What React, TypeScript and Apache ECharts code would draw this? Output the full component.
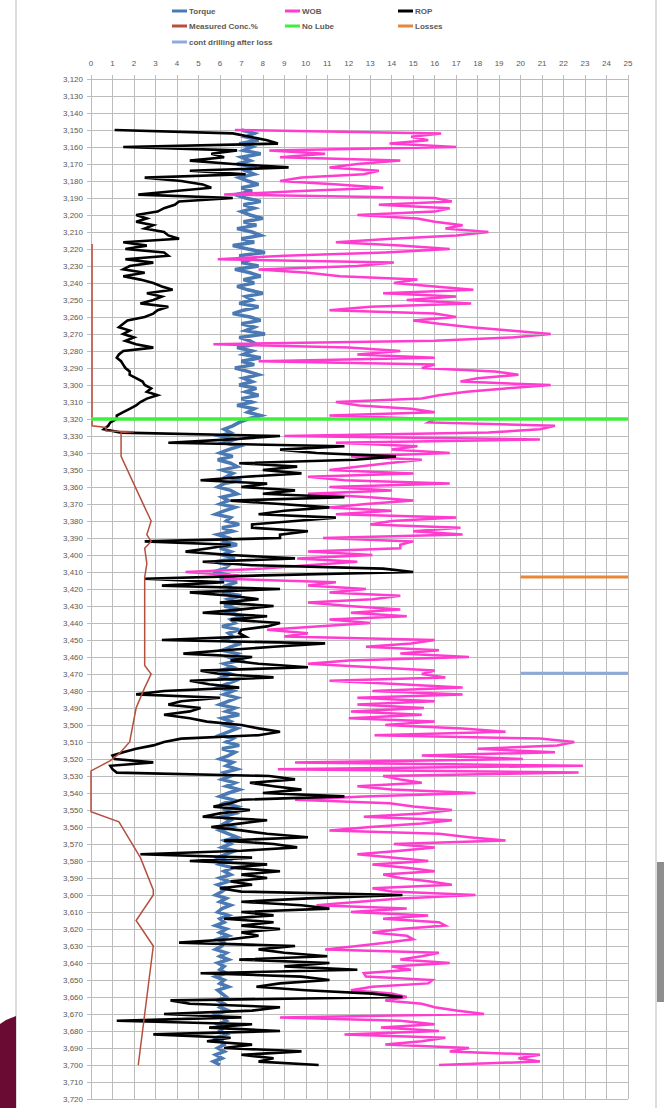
import React, { useEffect, useRef } from "react";
import * as echarts from "echarts";

// Depth sampling of the logs (m): first sample and spacing
const DEPTH_START = 3150;
const DEPTH_STEP = 2;

// Axis ranges
const DEPTH_MIN = 3120;
const DEPTH_MAX = 3720;
const X_MIN = 0;
const X_MAX = 25;

// Torque, one row per 10 m (3150 ... 3700)
const torque = [
  7.0, 7.6, 7.2, 7.8, 6.9,
  7.5, 7.1, 7.9, 7.0, 7.4,
  6.8, 7.7, 7.2, 7.6, 6.9,
  7.3, 7.8, 7.0, 7.5, 6.7,
  7.2, 7.9, 7.1, 7.6, 7.0,
  7.4, 8.0, 7.1, 7.7, 6.8,
  7.5, 7.9, 7.0, 7.6, 6.6,
  7.3, 8.1, 6.9, 7.5, 7.0,
  7.8, 6.7, 7.4, 7.9, 7.1,
  7.6, 6.8, 7.3, 8.0, 7.2,
  7.5, 6.9, 7.8, 7.1, 6.6,
  7.4, 7.9, 7.0, 7.6, 7.2,
  8.1, 6.9, 7.4, 7.7, 6.8,
  7.5, 7.1, 7.9, 7.0, 7.6,
  6.7, 7.3, 7.8, 7.1, 7.5,
  6.9, 7.7, 7.2, 7.8, 7.0,
  7.5, 6.8, 7.6, 7.3, 7.9,
  7.3, 6.9, 6.6, 6.2, 6.5,
  6.0, 6.7, 6.2, 6.9, 6.4,
  6.0, 6.6, 5.9, 6.5, 6.8,
  6.1, 6.6, 6.3, 7.0, 6.2,
  5.9, 6.5, 6.8, 6.1, 6.4,
  6.0, 6.7, 6.2, 5.8, 6.5,
  6.3, 6.9, 6.1, 6.6, 5.9,
  6.4, 6.2, 6.8, 6.0, 6.5,
  6.1, 6.7, 5.8, 6.4, 6.2,
  5.7, 6.5, 6.0, 6.8, 6.3,
  6.6, 6.1, 7.0, 6.4, 6.8,
  6.2, 6.9, 6.4, 7.1, 6.5,
  6.7, 6.1, 6.9, 6.4, 6.6,
  6.2, 7.0, 6.5, 6.1, 6.8,
  6.4, 6.9, 6.2, 6.6, 6.0,
  6.5, 6.1, 6.7, 6.3, 5.9,
  6.6, 6.2, 6.8, 6.4, 6.0,
  6.7, 6.3, 6.9, 6.1, 6.5,
  6.2, 6.8, 6.4, 6.0, 6.6,
  6.3, 6.9, 6.1, 6.7, 6.4,
  6.0, 6.6, 6.3, 6.8, 6.2,
  6.5, 6.1, 6.7, 6.3, 6.9,
  6.4, 6.0, 6.6, 6.2, 6.8,
  6.3, 6.7, 6.1, 6.5, 6.2,
  6.6, 6.0, 6.4, 6.8, 6.2,
  6.5, 6.1, 6.7, 6.3, 5.9,
  6.4, 6.0, 6.6, 6.2, 6.5,
  6.0, 6.4, 5.9, 6.3, 6.1,
  5.8, 6.3, 6.0, 6.5, 6.1,
  5.9, 6.4, 6.0, 6.2, 5.8,
  6.3, 6.0, 6.4, 5.9, 6.2,
  6.1, 5.8, 6.3, 6.0, 6.4,
  5.9, 6.2, 6.0, 6.3, 5.8,
  6.2, 6.0, 6.4, 5.9, 6.1,
  6.3, 5.9, 6.2, 6.0, 6.4,
  5.8, 6.1, 6.3, 5.9, 6.2,
  6.0, 6.3, 5.8, 6.1, 6.2,
  5.9, 6.2, 5.8, 6.1, 5.7,
  6.0,
];

// WOB, one row per 10 m (3150 ... 3700)
const wob = [
  6.7, 16.3, 14.9, 15.7, 13.9,
  17.0, 8.3, 10.9, 8.8, 14.4,
  12.4, 11.1, 13.4, 12.7, 9.8,
  8.8, 11.5, 13.6, 9.5, 6.2,
  16.0, 16.8, 13.4, 16.7, 16.0,
  12.4, 15.2, 16.0, 17.3, 16.5,
  18.5, 17.0, 14.0, 11.4, 14.4,
  16.7, 13.7, 9.0, 5.9, 14.1,
  12.4, 7.8, 10.1, 11.6, 15.2,
  14.1, 16.0, 17.8, 13.6, 17.0,
  14.7, 17.7, 13.0, 11.1, 16.0,
  17.0, 15.0, 16.2, 17.7, 19.5,
  21.4, 19.6, 16.0, 5.7, 12.0,
  14.4, 12.4, 16.0, 7.8, 16.0,
  15.4, 18.8, 19.9, 18.0, 17.2,
  21.4, 19.3, 17.5, 16.2, 15.4,
  11.4, 12.5, 14.9, 16.0, 11.1,
  16.0, 15.7, 21.6, 20.9, 18.5,
  9.0, 20.9, 11.4, 15.2, 14.0,
  16.7, 12.1, 15.4, 13.8, 12.5,
  11.1, 15.0, 10.1, 11.8, 16.7,
  11.1, 14.0, 10.1, 13.0, 15.0,
  12.8, 11.1, 14.0, 11.4, 17.0,
  14.0, 13.0, 17.2, 15.0, 17.3,
  10.8, 15.0, 14.4, 14.4, 10.1,
  13.1, 9.6, 12.4, 10.1, 8.0,
  4.4, 6.9, 6.2, 11.4, 10.1,
  12.8, 11.1, 14.4, 13.1, 10.1,
  12.0, 14.4, 12.1, 14.7, 11.1,
  13.0, 10.5, 8.2, 10.1, 9.0,
  16.0, 14.9, 12.8, 16.2, 14.4,
  17.6, 12.0, 10.1, 13.1, 16.0,
  15.4, 16.5, 11.1, 14.4, 17.3,
  13.1, 17.3, 12.4, 16.0, 12.4,
  15.5, 12.1, 15.4, 12.0, 16.0,
  13.7, 17.3, 19.3, 13.2, 20.9,
  22.5, 21.7, 18.0, 21.6, 15.4,
  20.1, 9.5, 22.9, 8.7, 22.7,
  13.6, 14.4, 15.4, 12.4, 14.0,
  17.9, 12.7, 9.5, 13.9, 15.0,
  16.8, 15.4, 12.7, 16.8, 15.4,
  13.0, 11.1, 16.2, 17.6, 19.3,
  14.1, 16.0, 14.4, 12.4, 14.0,
  15.7, 13.1, 14.7, 16.0, 13.6,
  14.4, 15.8, 16.8, 13.1, 14.0,
  17.9, 14.4, 12.5, 10.5, 14.7,
  12.1, 15.7, 13.6, 16.2, 16.5,
  14.4, 13.1, 14.7, 15.0, 13.8,
  12.4, 10.9, 16.2, 15.4, 14.4,
  16.7, 14.0, 14.9, 12.7, 12.8,
  15.9, 15.7, 13.1, 12.1, 14.0,
  14.7, 13.7, 15.4, 16.0, 17.0,
  18.3, 8.8, 14.4, 16.0, 13.5,
  16.2, 11.8, 16.5, 15.4, 13.7,
  17.6, 16.7, 20.9, 19.9, 20.9,
  16.2,
];

// ROP, one row per 10 m (3150 ... 3700)
const rop = [
  1.1, 6.6, 7.4, 8.2, 8.7,
  1.5, 6.8, 5.6, 6.2, 4.6,
  6.6, 9.2, 4.6, 7.2, 2.5,
  4.2, 5.2, 5.6, 3.8, 2.2,
  6.6, 4.1, 3.9, 3.4, 3.1,
  2.1, 2.6, 2.1, 2.9, 2.5,
  3.4, 3.6, 4.1, 1.5, 2.6,
  1.6, 3.4, 3.6, 1.6, 2.9,
  1.8, 1.5, 2.5, 1.5, 2.3,
  2.9, 3.3, 3.8, 2.6, 3.3,
  2.9, 2.3, 3.6, 3.1, 2.9,
  2.5, 1.7, 1.5, 1.3, 1.8,
  1.5, 2.0, 1.6, 2.1, 2.9,
  1.5, 1.3, 1.2, 1.4, 1.5,
  1.6, 1.8, 1.8, 2.1, 2.4,
  2.5, 2.8, 2.6, 3.1, 2.6,
  2.3, 2.1, 1.8, 1.5, 1.2,
  1.2, 0.9, 0.8, 0.6, 1.4,
  8.8, 6.5, 3.6, 11.8, 8.8,
  10.5, 14.2, 12.3, 6.9, 9.6,
  8.0, 9.8, 7.2, 5.1, 8.2,
  7.0, 9.5, 8.0, 11.8, 6.5,
  8.8, 11.1, 9.0, 7.8, 11.4,
  9.5, 7.5, 7.5, 10.1, 8.8,
  8.8, 2.5, 6.5, 5.5, 4.4,
  6.5, 9.5, 5.2, 7.5, 13.6,
  15.0, 8.0, 2.5, 6.2, 3.3,
  8.8, 4.6, 6.5, 7.8, 6.0,
  8.5, 7.0, 5.2, 8.2, 6.5,
  8.8, 8.2, 7.0, 6.9, 7.2,
  3.3, 10.9, 8.5, 6.2, 4.3,
  7.5, 6.5, 7.8, 10.1, 5.1,
  6.0, 8.5, 4.6, 5.5, 6.9,
  3.4, 2.1, 6.0, 4.2, 3.6,
  5.1, 4.6, 3.4, 4.6, 5.4,
  7.0, 7.8, 8.8, 7.8, 4.2,
  3.4, 2.9, 2.1, 1.5, 1.0,
  1.1, 2.9, 0.9, 1.0, 1.2,
  8.3, 9.5, 7.4, 8.5, 9.8,
  8.0, 11.8, 7.0, 6.5, 5.7,
  7.4, 6.0, 5.2, 8.2, 6.9,
  5.6, 7.0, 8.2, 10.1, 6.2,
  8.5, 9.6, 7.0, 2.3, 7.5,
  4.6, 8.2, 6.5, 8.8, 7.0,
  8.2, 6.5, 7.5, 6.0, 7.0,
  14.5, 10.1, 7.0, 9.8, 11.1,
  7.0, 8.5, 6.2, 8.5, 7.0,
  8.8, 7.0, 7.8, 6.5, 4.1,
  9.5, 7.8, 9.0, 11.0, 6.9,
  11.1, 9.0, 12.4, 5.1, 9.8,
  11.1, 8.8, 7.7, 10.0, 13.1,
  14.5, 3.7, 4.6, 8.8, 7.5,
  3.4, 7.0, 1.2, 7.5, 5.5,
  8.8, 2.9, 6.5, 5.4, 7.5,
  6.2, 9.8, 7.0, 8.5, 7.8,
  10.6,
];

// Measured lubricant concentration (%) at its own depths
const concDepth = [
  3217, 3324, 3325, 3327, 3327.5, 3328, 3342, 3372, 3380, 3388, 3392, 3396,
  3405, 3413, 3465, 3470, 3478, 3490, 3510, 3517, 3521, 3527, 3551, 3557,
  3578, 3597, 3600, 3615, 3630, 3700,
];
const concValue = [
  0.05, 0.05, 0.7, 0.7, 2.0, 1.4, 1.4, 2.5, 2.8, 2.6, 2.8, 2.5,
  2.6, 2.5, 2.5, 2.8, 2.5, 2.1, 1.8, 1.3, 0.9, 0.0, 0.0, 1.3,
  2.3, 2.9, 2.9, 2.1, 2.9, 2.2,
];

// Marker lines
const noLubeDepth = 3320;
const noLubeX = [0, 25];
const lossesDepth = 3413;
const lossesX = [20, 25];
const contDepth = 3469.5;
const contX = [20, 25];

const NAMES = {
  torque: "Torque",
  wob: "WOB",
  rop: "ROP",
  conc: "Measured Conc.%",
  noLube: "No Lube",
  losses: "Losses",
  cont: "cont drilling after loss",
};

const COLORS = {
  torque: "#4a79b4",
  wob: "#ff3ccf",
  rop: "#000000",
  conc: "#b5503e",
  noLube: "#3cf03c",
  losses: "#e8873a",
  cont: "#8eaadb",
};

const FONT = "'Liberation Sans', Arial, sans-serif";

function logData(values: number[]) {
  return values.map((v, i) => [v, DEPTH_START + i * DEPTH_STEP]);
}

function hLine(xs: number[], depth: number) {
  return xs.map((x) => [x, depth]);
}

export default function App() {
  const ref = useRef<HTMLDivElement>(null);

  useEffect(() => {
    if (!ref.current) return;
    const chart = echarts.init(ref.current, undefined, { renderer: "svg" });

    const legendCommon = {
      icon: "rect",
      itemWidth: 15,
      itemHeight: 3,
      padding: 0,
      itemGap: 0,
      selectedMode: false,
      textStyle: {
        fontSize: 8,
        fontWeight: "bold",
        color: "#595959",
        fontFamily: FONT,
        padding: [0, 0, 0, -3],
      },
    };
    const legendAt = (name: string, left: number, top: number) => ({
      ...legendCommon,
      left,
      top,
      data: [name],
    });

    const lineSeries = (
      name: string,
      data: number[][],
      color: string,
      width: number,
      z: number
    ) => ({
      name,
      type: "line",
      data,
      showSymbol: false,
      symbol: "none",
      silent: true,
      z,
      lineStyle: { color, width, cap: "butt", join: "miter" },
      itemStyle: { color },
    });

    chart.setOption({
      animation: false,
      backgroundColor: "#ffffff",
      grid: { left: 91, right: 36, top: 79, bottom: 9, containLabel: false },
      legend: [
        legendAt(NAMES.torque, 172, 7),
        legendAt(NAMES.wob, 285, 7),
        legendAt(NAMES.rop, 398, 7),
        legendAt(NAMES.conc, 172, 22),
        legendAt(NAMES.noLube, 285, 22),
        legendAt(NAMES.losses, 398, 22),
        legendAt(NAMES.cont, 172, 38),
      ],
      xAxis: {
        type: "value",
        position: "top",
        min: X_MIN,
        max: X_MAX,
        interval: 1,
        axisLine: { show: false },
        axisTick: { show: true, length: 4, lineStyle: { color: "#bcbcbc" } },
        axisLabel: {
          fontSize: 8,
          color: "#595959",
          fontFamily: FONT,
          margin: 12,
        },
        splitLine: { show: true, lineStyle: { color: "#bcbcbc", width: 1 } },
      },
      yAxis: {
        type: "value",
        inverse: true,
        min: DEPTH_MIN,
        max: DEPTH_MAX,
        interval: 10,
        axisLine: { show: true, lineStyle: { color: "#bcbcbc", width: 1 } },
        axisTick: { show: true, length: 4, lineStyle: { color: "#bcbcbc" } },
        axisLabel: {
          fontSize: 8,
          color: "#595959",
          fontFamily: FONT,
          margin: 8,
          formatter: (v: number) => v.toLocaleString("en-US"),
        },
        splitLine: { show: true, lineStyle: { color: "#bcbcbc", width: 1 } },
      },
      series: [
        lineSeries(NAMES.torque, logData(torque), COLORS.torque, 3.5, 2),
        lineSeries(NAMES.wob, logData(wob), COLORS.wob, 2.5, 3),
        lineSeries(NAMES.rop, logData(rop), COLORS.rop, 2.6, 4),
        lineSeries(
          NAMES.conc,
          concValue.map((v, i) => [v, concDepth[i]]),
          COLORS.conc,
          1.5,
          5
        ),
        lineSeries(NAMES.noLube, hLine(noLubeX, noLubeDepth), COLORS.noLube, 3.5, 6),
        lineSeries(NAMES.losses, hLine(lossesX, lossesDepth), COLORS.losses, 3, 6),
        lineSeries(NAMES.cont, hLine(contX, contDepth), COLORS.cont, 3, 6),
      ],
      graphic: [
        {
          type: "rect",
          shape: { x: 15, y: 0, width: 2, height: 1108 },
          style: { fill: "#dcdcdc" },
          silent: true,
        },
        {
          type: "rect",
          shape: { x: 655, y: 0, width: 2, height: 1108 },
          style: { fill: "#dcdcdc" },
          silent: true,
        },
        {
          type: "polygon",
          shape: {
            points: [
              [0, 1024],
              [6, 1020],
              [16, 1016],
              [16, 1108],
              [0, 1108],
            ],
          },
          style: { fill: "#6a0b34" },
          silent: true,
        },
        {
          type: "rect",
          shape: { x: 657, y: 862, width: 7, height: 140 },
          style: { fill: "#8d8d8d" },
          silent: true,
        },
      ],
    });

    return () => {
      chart.dispose();
    };
  }, []);

  return (
    <div
      ref={ref}
      style={{ position: "absolute", left: 0, top: 0, width: 664, height: 1108 }}
    />
  );
}
